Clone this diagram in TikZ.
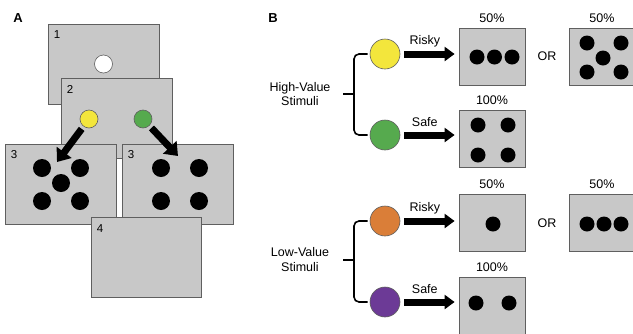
\documentclass[tikz,border=0pt]{standalone}
\usepackage{fontspec}
\setmainfont{Liberation Sans}
\usetikzlibrary{arrows.meta,calc,positioning}
\definecolor{screengray}{RGB}{200,200,200}
\definecolor{edgegray}{RGB}{95,95,95}
\definecolor{cueyellow}{RGB}{243,230,60}
\definecolor{cuegreen}{RGB}{86,170,78}
\definecolor{cueorange}{RGB}{218,126,56}
\definecolor{cuepurple}{RGB}{108,58,150}

\begin{document}
\begin{tikzpicture}[x=1pt,y=-1pt,font=\fontsize{12.5}{14.5}\selectfont,
  screen/.style={draw=edgegray,line width=0.8pt,fill=screengray,minimum width=111pt,minimum height=80pt,inner sep=0pt},
  card/.style={screen,minimum width=66pt,minimum height=57pt},
  num/.style={anchor=north west,inner sep=0pt,xshift=6pt,yshift=-7pt,font=\fontsize{11.5}{12}\selectfont},
  pct/.style={inner sep=0pt,label distance=5pt},
  smallcue/.style={circle,draw=edgegray,line width=0.6pt,minimum size=18pt,inner sep=0pt},
  cue/.style={circle,draw=edgegray,line width=0.6pt,minimum size=30pt,inner sep=0pt},
  fatarrow/.style={line width=7pt,-{Triangle[length=12pt,width=18pt]},shorten <=3pt},
  bigarrow/.style={line width=7pt,-{Triangle[length=10pt,width=14pt]},shorten <=4pt,shorten >=4pt},
  brace/.style={line width=1.6pt,rounded corners=5pt}]
\useasboundingbox (0,0) rectangle (633,333);

% panel A
\node[font=\bfseries\fontsize{13}{14}\selectfont] (pa) at (18,18) {A};

\node[screen,label={[num]north west:1}] (s1) at (103.5,64) {};
\node[smallcue,fill=white] (fix) at (s1) {};

\node[screen,label={[num]north west:2}] (s2) at (116.5,118.5) {};
\node[smallcue,fill=cueyellow] (yel) at (89,119) {};
\node[smallcue,fill=cuegreen] (grn) at (143,119) {};

\node[screen,label={[num]north west:3}] (s3a) at (60.5,184) {};
\node[screen,label={[num]north west:3}] (s3b) at (177.5,184) {};
\foreach \p in {(42,168),(80,168),(61,183),(42,201),(80,201),(161,168),(199,168),(161,201),(199,201)}
  \fill \p circle (9);

\node[screen,minimum width=110pt,label={[num]north west:4}] (s4) at (146,257.5) {};

\coordinate (tipl) at (57,162);
\coordinate (tipr) at (178,156);
\draw[fatarrow] (yel) -- (tipl);
\draw[fatarrow] (grn) -- (tipr);

% panel B
\node[font=\bfseries\fontsize{13}{14}\selectfont] (pb) at (273,18) {B};

\node[cue,fill=cueyellow] (hrisk) at (385,54) {};
\node[cue,fill=cuegreen] (hsafe) at (385,135) {};
\node[cue,fill=cueorange] (lrisk) at (385,221) {};
\node[cue,fill=cuepurple] (lsafe) at (385,302) {};

\node[card,label={[pct]above:50\%}] (hr1) at (492,56.5) {};
\node[card,label={[pct]above:50\%}] (hr2) at (602,56.5) {};
\node[card,label={[pct]above:100\%}] (hs) at (492,139) {};
\node[card,label={[pct]above:50\%}] (lr1) at (492,223) {};
\node[card,label={[pct]above:50\%}] (lr2) at (602,223) {};
\node[card,label={[pct]above:100\%}] (ls) at (492,306) {};

\foreach \p in {(477,57),(494.5,57),(512,57),
                (587,43),(621,43),(603,58),(587,72),(621,72),
                (478,125),(508,125),(478,155),(508,155),
                (493,224),
                (587,224),(604,224),(621,224),
                (476,303),(509,303)}
  \fill \p circle (7.5);

\node (or1) at ($(hr1.east)!0.5!(hr2.west)$) {OR};
\node (or2) at ($(lr1.east)!0.5!(lr2.west)$) {OR};

\draw[bigarrow] (hrisk.east) -- (hrisk.east -| hr1.west) node[pos=0.42,anchor=base,yshift=10pt] {Risky};
\draw[bigarrow] (hsafe.east) -- (hsafe.east -| hs.west) node[pos=0.42,anchor=base,yshift=9pt] {Safe};
\draw[bigarrow] (lrisk.east) -- (lrisk.east -| lr1.west) node[pos=0.42,anchor=base,yshift=10pt] {Risky};
\draw[bigarrow] (lsafe.east) -- (lsafe.east -| ls.west) node[pos=0.42,anchor=base,yshift=9pt] {Safe};

\node[align=center] (hv) at (300,94) {High-Value\\Stimuli};
\node[align=center] (lv) at (300,259.5) {Low-Value\\Stimuli};

\coordinate (hvm) at (354,94);
\coordinate (lvm) at (354,260);
\draw[brace] ($(hrisk.west)+(-2,0)$) -| (hvm) |- ($(hsafe.west)+(-2,0)$);
\draw[brace] (hvm) -- ++(-11,0);
\draw[brace] ($(lrisk.west)+(-2,0)$) -| (lvm) |- ($(lsafe.west)+(-2,0)$);
\draw[brace] (lvm) -- ++(-11,0);
\end{tikzpicture}
\end{document}
